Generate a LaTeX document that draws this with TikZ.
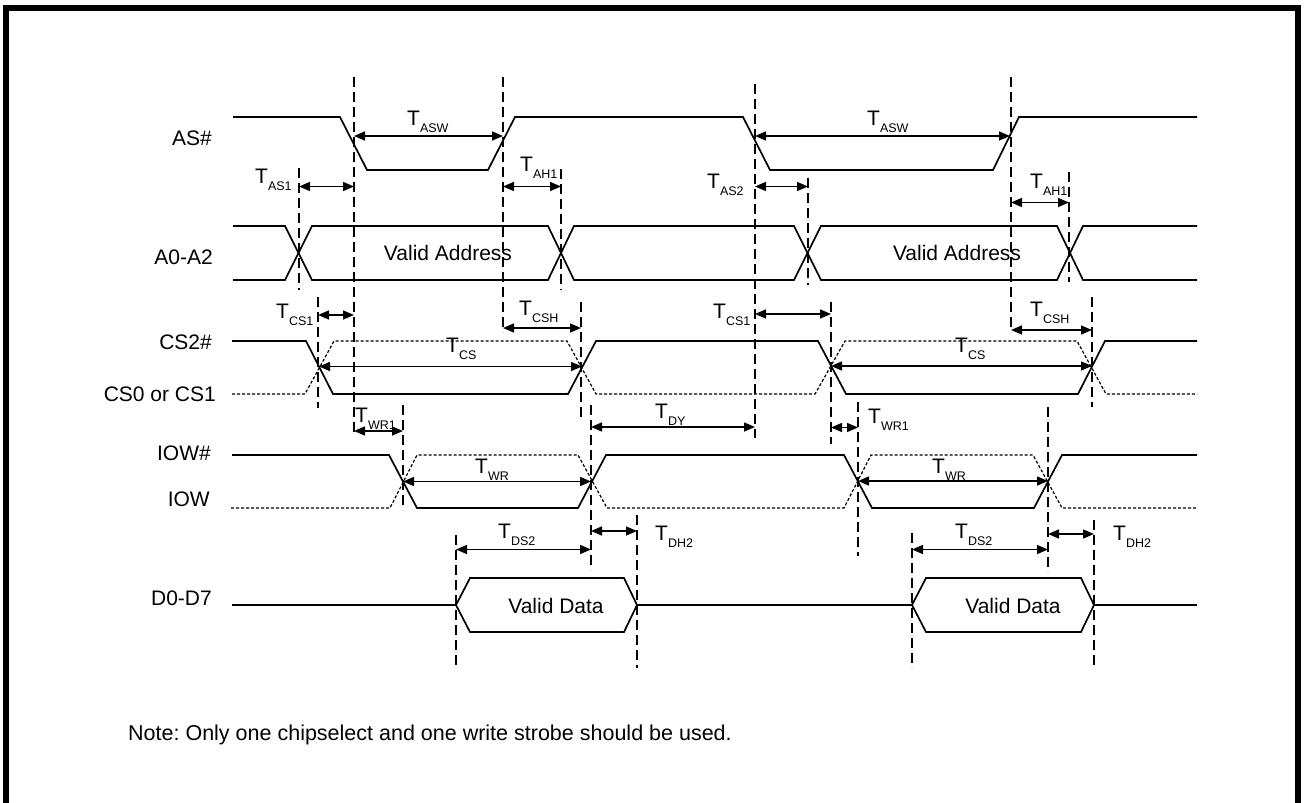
\documentclass[tikz,border=0pt]{standalone}
\usepackage{fontspec}
\setmainfont{Liberation Sans}
\usetikzlibrary{arrows.meta}
\newcommand\Tsub[1]{T\raisebox{-7pt}{\fontsize{12.5}{12.5}\selectfont #1}}
\frenchspacing
\begin{document}
\begin{tikzpicture}[x=1pt,y=-1pt,
  sig/.style={line width=1.7pt, line join=miter},
  alt/.style={line width=1.2pt, dash pattern=on 3pt off 2pt},
  guide/.style={line width=1.2pt, dash pattern=on 10pt off 5pt},
  dim/.style={line width=1.5pt, {Triangle[length=11pt,width=9pt]}-{Triangle[length=11pt,width=9pt]}},
  lab/.style={anchor=base east, inner sep=0pt, font=\fontsize{21}{21}\selectfont},
  tl/.style={anchor=base west, inner sep=0pt, font=\fontsize{21}{21}\selectfont},
  txt/.style={inner sep=0pt, font=\fontsize{21}{21}\selectfont}]
\useasboundingbox (0,0) rectangle (1304,803);
% frame
\draw[line width=6pt, line join=miter] (6,803) -- (6,7.5) -- (1298,7.5) -- (1298,803);

% signal names
\node[lab] (nAS) at (212,145) {AS\#};
\node[lab] (nA) at (213,264) {A0-A2};
\node[lab] (nCS) at (212,349) {CS2\#};
\node[lab] (nCSb) at (216,401) {CS0 or CS1};
\node[lab] (nIOW) at (211,460) {IOW\#};
\node[lab] (nIOWb) at (210,506.5) {IOW};
\node[lab] (nD) at (212,605) {D0-D7};

% AS#
\draw[sig] (233,117) -- (340,117) -- (367,170) -- (488,170) -- (515,117) -- (743,117) -- (770,170) -- (993,170) -- (1019,117) -- (1197,117);
% A0-A2
\draw[sig] (233,226) -- (285,226) -- (312,280) -- (548,280) -- (574,226) -- (794,226) -- (821,280) -- (1057,280) -- (1083,226) -- (1197,226);
\draw[sig] (233,280) -- (285,280) -- (312,226) -- (548,226) -- (574,280) -- (794,280) -- (821,226) -- (1057,226) -- (1083,280) -- (1197,280);
\node[txt] (va1) at (448,253) {Valid Address};
\node[txt] (va2) at (957,253) {Valid Address};
% CS
\draw[sig] (232,341) -- (306,341) -- (333,394) -- (568,394) -- (596,341) -- (818,341) -- (846,394) -- (1078,394) -- (1105,341) -- (1197,341);
\draw[alt] (232,394) -- (305,394) -- (334,341) -- (567,341) -- (596,394) -- (815,394) -- (845,341) -- (1077,341) -- (1106,394) -- (1197,394);
% IOW
\draw[sig] (232,455) -- (389,455) -- (417,508) -- (578,508) -- (606,455) -- (844,455) -- (872,508) -- (1034,508) -- (1062,455) -- (1197,455);
\draw[alt] (231,508) -- (390,508) -- (417,455) -- (578,455) -- (607,508) -- (844,508) -- (871,455) -- (1033,455) -- (1062,508) -- (1197,508);
% D0-D7
\draw[sig] (232,605) -- (456,605);
\draw[sig] (637,605) -- (912,605);
\draw[sig] (1094,605) -- (1197,605);
\draw[sig] (456,605) -- (470,578) -- (624,578) -- (637,605) -- (624,632) -- (470,632) -- cycle;
\draw[sig] (912,605) -- (926,578) -- (1081,578) -- (1094,605) -- (1081,632) -- (926,632) -- cycle;
\node[txt] (vd1) at (556,606) {Valid Data};
\node[txt] (vd2) at (1013,606) {Valid Data};

% guide lines
\foreach \x/\a/\b in {299/168/290, 354/77/435, 503/77/332, 561/169/290, 755/84/438,
  808/178/285, 1011/77/332, 1069/172/282, 318/297/408, 581/302/417, 831/302/444,
  1092/297/407, 403/405/510, 591/405/570, 858/402/556, 1048/407/572,
  456/535/668, 637/515/668, 912/533/668, 1094/520/668}
  \draw[guide] (\x,\a) -- (\x,\b);

% dimension arrows
\draw[dim] (354,136) -- (503,136);
\draw[dim] (299,186.5) -- (354,186.5);
\draw[dim] (503,186.5) -- (561,186.5);
\draw[dim] (755,136) -- (1010,136);
\draw[dim] (755,186.5) -- (808,186.5);
\draw[dim] (1011,202.5) -- (1069,202.5);
\draw[dim] (318,315) -- (354,315);
\draw[dim] (503,328) -- (581,328);
\draw[dim] (319,366.5) -- (582,366.5);
\draw[dim] (755,314) -- (831,314);
\draw[dim] (1011,330) -- (1092,330);
\draw[dim] (831,366) -- (1092,366);
\draw[dim] (354,431) -- (403,431);
\draw[dim] (591,427) -- (755,427);
\draw[dim] (831,427.5) -- (858,427.5);
\draw[dim] (403,481.5) -- (591,481.5);
\draw[dim] (858,481) -- (1048,481);
\draw[dim] (456,549.5) -- (591,549.5);
\draw[dim] (591,531) -- (637,531);
\draw[dim] (912,549.5) -- (1048,549.5);
\draw[dim] (1048,534) -- (1094,534);

% timing labels
\node[tl] (tasw1) at (407,125) {\Tsub{ASW}};
\node[tl] (tas1) at (255,183) {\Tsub{AS1}};
\node[tl] (tah1) at (520,171) {\Tsub{AH1}};
\node[tl] (tasw2) at (867,125) {\Tsub{ASW}};
\node[tl] (tas2) at (707,188) {\Tsub{AS2}};
\node[tl] (tah1b) at (1030,188) {\Tsub{AH1}};
\node[tl] (tcs1) at (276,318) {\Tsub{CS1}};
\node[tl] (tcsh1) at (519,315) {\Tsub{CSH}};
\node[tl] (tcs) at (446,352) {\Tsub{CS}};
\node[tl] (twr1) at (355,422) {\Tsub{WR1}};
\node[tl] (twr) at (475,473) {\Tsub{WR}};
\node[tl] (tcs1b) at (713,318) {\Tsub{CS1}};
\node[tl] (tcsh2) at (1030,316) {\Tsub{CSH}};
\node[tl] (tcs2) at (955,352) {\Tsub{CS}};
\node[tl] (twr1b) at (868,423) {\Tsub{WR1}};
\node[tl] (twr2) at (932,473) {\Tsub{WR}};
\node[tl] (tdy) at (655,418) {\Tsub{DY}};
\node[tl] (tds2) at (498,538) {\Tsub{DS2}};
\node[tl] (tdh2) at (655,540) {\Tsub{DH2}};
\node[tl] (tds2b) at (955,538) {\Tsub{DS2}};
\node[tl] (tdh2b) at (1113,540) {\Tsub{DH2}};

% note
\node[tl, font=\fontsize{21.5}{21.5}\selectfont] (note) at (128,740) {Note: Only one chipselect and one write strobe should be used.};
\end{tikzpicture}
\end{document}
